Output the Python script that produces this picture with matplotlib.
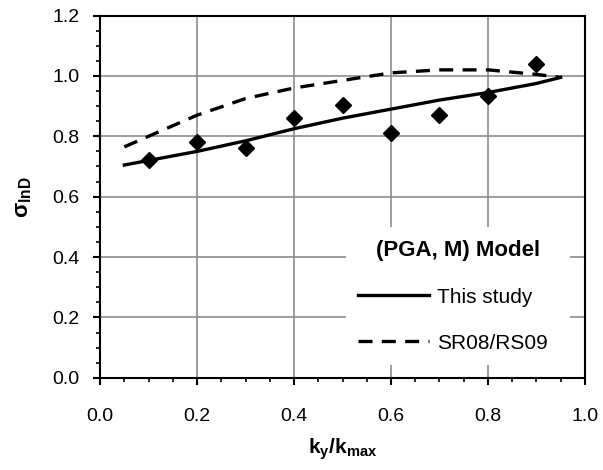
import numpy as np
import matplotlib
matplotlib.use('Agg')
import matplotlib.pyplot as plt
from matplotlib.ticker import MultipleLocator, FormatStrFormatter

plt.rcParams['font.family'] = ['Liberation Sans', 'DejaVu Sans']
plt.rcParams['mathtext.fontset'] = 'custom'
plt.rcParams['mathtext.rm'] = 'Liberation Sans'
plt.rcParams['mathtext.it'] = 'Liberation Sans:italic'
plt.rcParams['mathtext.bf'] = 'Liberation Sans:bold'

# observed sigma values (diamonds)
ky_obs = [0.1, 0.2, 0.3, 0.4, 0.5, 0.6, 0.7, 0.8, 0.9]
sigma_obs = [0.72, 0.78, 0.76, 0.86, 0.905, 0.81, 0.87, 0.935, 1.04]

# model curves
ky_curve = [0.05, 0.1, 0.2, 0.3, 0.4, 0.5, 0.6, 0.7, 0.8, 0.9, 0.95]
sigma_this = [0.705, 0.72, 0.75, 0.785, 0.825, 0.86, 0.89, 0.92, 0.945, 0.975, 0.995]
sigma_sr08 = [0.765, 0.80, 0.87, 0.925, 0.96, 0.985, 1.01, 1.02, 1.02, 1.005, 0.995]

fig = plt.figure(figsize=(6.03, 4.70), dpi=100)
ax = fig.add_axes([0.166, 0.196, 0.804, 0.771])

ax.plot(ky_obs, sigma_obs, linestyle='none', marker='D', markersize=8.5,
        color='black', zorder=3)
ax.plot(ky_curve, sigma_this, color='black', linewidth=2.4, label='This study', zorder=2)
ax.plot(ky_curve, sigma_sr08, color='black', linewidth=2.4, linestyle=(0, (4.2, 2.8)),
        label='SR08/RS09', zorder=2)

ax.set_xlim(0, 1.0)
ax.set_ylim(0, 1.2)
ax.xaxis.set_major_locator(MultipleLocator(0.2))
ax.xaxis.set_minor_locator(MultipleLocator(0.05))
ax.yaxis.set_major_locator(MultipleLocator(0.2))
ax.yaxis.set_minor_locator(MultipleLocator(0.05))
ax.xaxis.set_major_formatter(FormatStrFormatter('%.1f'))
ax.yaxis.set_major_formatter(FormatStrFormatter('%.1f'))

ax.grid(True, which='major', color='#8c8c8c', linewidth=1.2, zorder=0)
ax.set_axisbelow(True)
for s in ax.spines.values():
    s.set_linewidth(1.5)
ax.tick_params(which='major', direction='out', length=5, width=1.5, labelsize=14, colors='black')
ax.tick_params(which='minor', direction='out', length=3, width=1.2)
ax.tick_params(axis='x', which='major', pad=17)
ax.tick_params(axis='y', which='major', pad=10)

ax.set_xlabel(r'$\mathbf{k_y/k_{max}}$', fontsize=15, labelpad=8)
ax.set_ylabel(r'$\mathbf{\sigma_{lnD}}$', fontsize=16, labelpad=13)

leg = ax.legend(loc='lower left', bbox_to_anchor=(0.485, 0.006, 0.505, 0.4),
                mode='expand', title='(PGA, M) Model', fontsize=15,
                title_fontproperties={'weight': 'bold', 'size': 16},
                frameon=True, fancybox=False, edgecolor='none', framealpha=1,
                handlelength=3.4, handletextpad=0.4, labelspacing=1.3,
                borderpad=0.6)
leg._legend_box.align = 'center'

fig.savefig('out.png', dpi=100)
